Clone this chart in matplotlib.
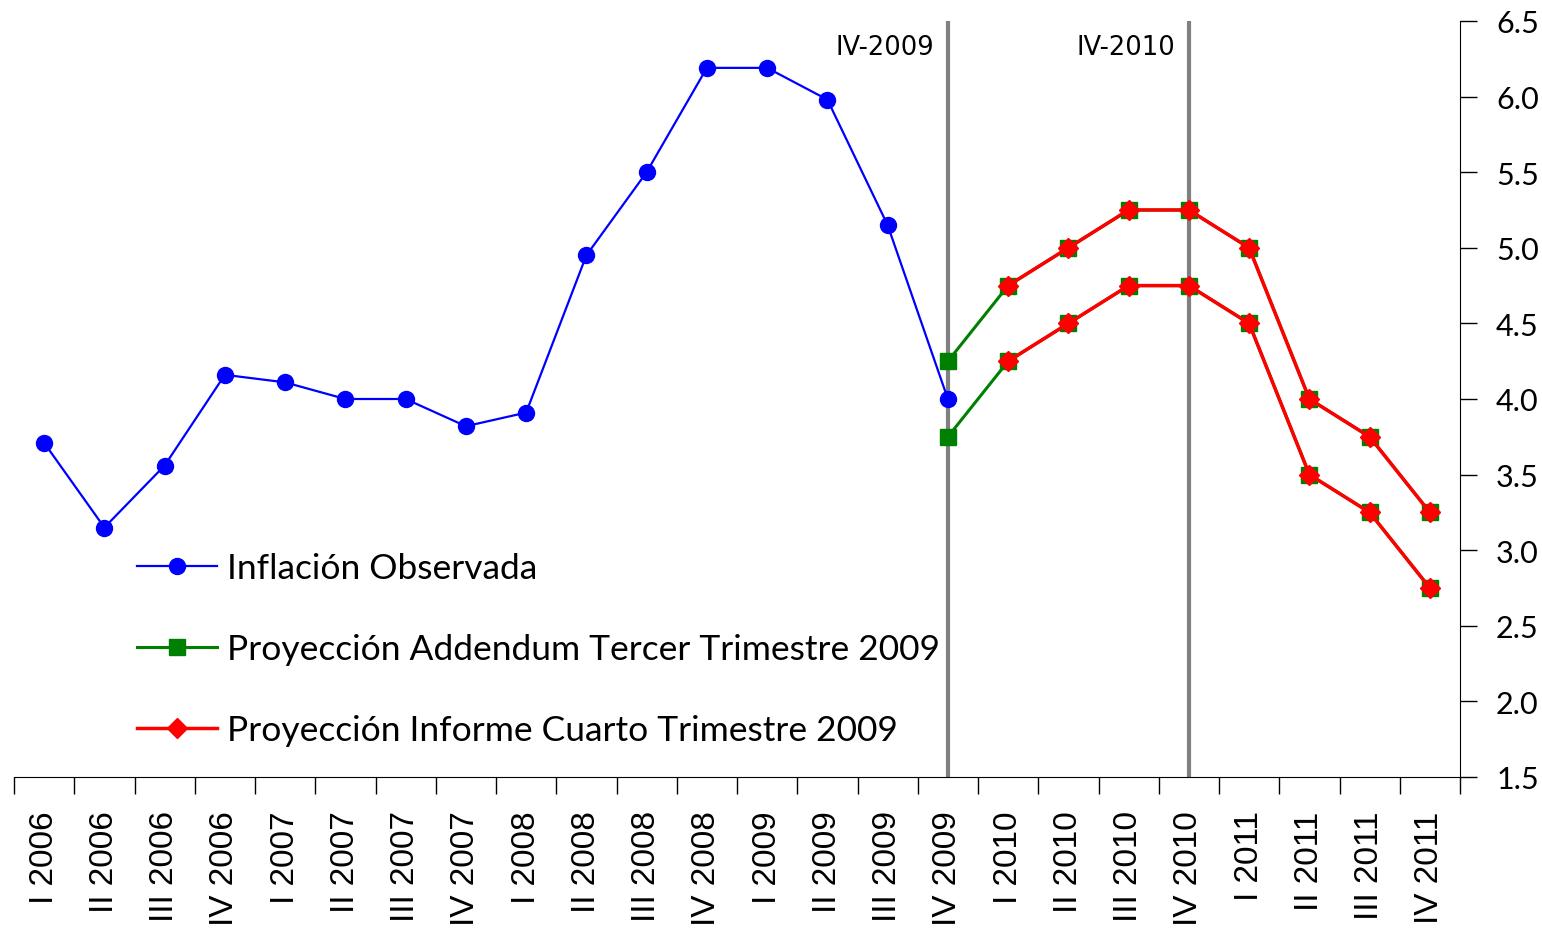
import numpy as np
import matplotlib.pyplot as plt

quarters = ["I 2006", "II 2006", "III 2006", "IV 2006",
            "I 2007", "II 2007", "III 2007", "IV 2007",
            "I 2008", "II 2008", "III 2008", "IV 2008",
            "I 2009", "II 2009", "III 2009", "IV 2009",
            "I 2010", "II 2010", "III 2010", "IV 2010",
            "I 2011", "II 2011", "III 2011", "IV 2011"]

observed = [3.71, 3.15, 3.56, 4.16, 4.11, 4.00, 4.00, 3.82,
            3.91, 4.95, 5.50, 6.19, 6.19, 5.98, 5.15, 4.00]

# projection bands, IV 2009 .. IV 2011
addendum_upper = [4.25, 4.75, 5.00, 5.25, 5.25, 5.00, 4.00, 3.75, 3.25]
addendum_lower = [3.75, 4.25, 4.50, 4.75, 4.75, 4.50, 3.50, 3.25, 2.75]
# I 2010 .. IV 2011
informe_upper = [4.75, 5.00, 5.25, 5.25, 5.00, 4.00, 3.75, 3.25]
informe_lower = [4.25, 4.50, 4.75, 4.75, 4.50, 3.50, 3.25, 2.75]

markers_at = ["IV 2009", "IV 2010"]
marker_labels = ["IV-2009", "IV-2010"]

plt.rcParams['font.family'] = ['DejaVu Sans']

fig = plt.figure(figsize=(15.42, 9.29), dpi=100)
ax = fig.add_axes([14 / 1542, 1 - 778 / 929, 1446 / 1542, 756 / 929])

x_obs = np.arange(len(observed))
x_add = np.arange(15, 15 + len(addendum_upper))
x_inf = np.arange(16, 16 + len(informe_upper))

for q in markers_at:
    ax.axvline(quarters.index(q), color='#808080', lw=3, zorder=1)
for q, lab in zip(markers_at, marker_labels):
    ax.text(quarters.index(q) - 0.23, 6.33, lab, ha='right', va='center', fontsize=18.5)

ax.plot(x_obs, observed, color='#0000ff', lw=1.6, marker='o', ms=11.5,
        label='Inflación Observada', zorder=3)
ax.plot(x_add, addendum_upper, color='#008000', lw=2.2, marker='s', ms=11,
        label='Proyección Addendum Tercer Trimestre 2009', zorder=3)
ax.plot(x_add, addendum_lower, color='#008000', lw=2.2, marker='s', ms=11, zorder=3)
ax.plot(x_inf, informe_upper, color='#ff0000', lw=2.5, marker='D', ms=10,
        label='Proyección Informe Cuarto Trimestre 2009', zorder=4)
ax.plot(x_inf, informe_lower, color='#ff0000', lw=2.5, marker='D', ms=10, zorder=4)

ax.set_xlim(-0.5, len(quarters) - 0.5)
ax.set_ylim(1.5, 6.5)

ax.set_xticks(np.arange(len(quarters)))
ax.set_xticklabels(quarters, rotation=90, fontsize=24, family='Liberation Sans')
ax.set_xticks(np.arange(len(quarters) + 1) - 0.5, minor=True)
ax.tick_params(axis='x', which='major', length=0, pad=24)
ax.tick_params(axis='x', which='minor', length=12, width=1, direction='out')

ax.yaxis.tick_right()
ax.set_yticks(np.arange(1.5, 6.51, 0.5))
ax.set_yticklabels([f"{v:.1f}" for v in np.arange(1.5, 6.51, 0.5)], fontsize=22, family='Lato')
ax.tick_params(axis='y', length=12, width=1, direction='out', pad=14)

ax.spines['left'].set_visible(False)
ax.spines['top'].set_visible(False)

leg = ax.legend(loc='upper left', bbox_to_anchor=(0.085, 0.297), frameon=False,
                prop={'family': 'Lato', 'size': 25.5}, handlelength=2.25,
                handletextpad=0.28, labelspacing=1.38, borderaxespad=0, borderpad=0)

fig.savefig('out.png', dpi=100)
